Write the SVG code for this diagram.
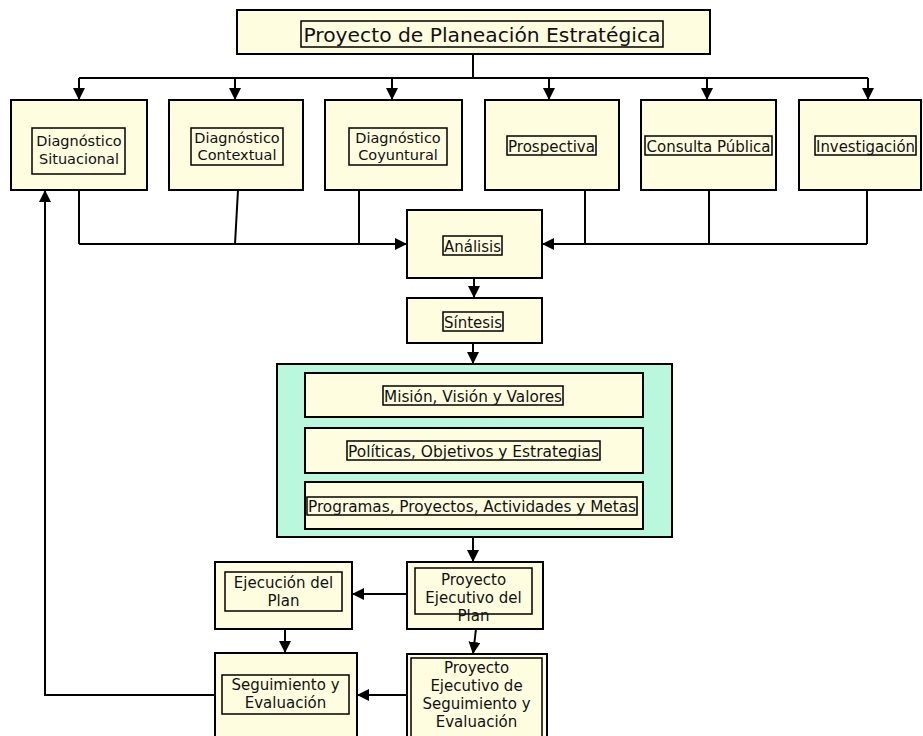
<svg xmlns="http://www.w3.org/2000/svg" width="923" height="736" viewBox="0 0 923 736">
  <style>
    .box { fill: #FFFDE0; stroke: #000; stroke-width: 2; }
    .frame { fill: #FFFDE0; stroke: #000; stroke-width: 1.5; }
    .group { fill: #B9F8DC; stroke: #000; stroke-width: 2; }
    .lbl { font-family: "DejaVu Sans", Verdana, sans-serif; font-size: 14.5px; fill: #111; text-anchor: middle; }
    .one { font-size: 16px; }
    .low { font-size: 15px; }
    .title { font-size: 20px; }
    .conn { fill: none; stroke: #000; stroke-width: 2; }
    .arr { marker-end: url(#arrow); }
  </style>
  <defs>
    <marker id="arrow" markerUnits="userSpaceOnUse" markerWidth="12" markerHeight="12" viewBox="0 0 12 12" refX="12" refY="6" orient="auto">
      <path d="M0,0 L12,6 L0,12 Z" fill="#000"/>
    </marker>
  </defs>

  <!-- connectors -->
  <g id="connectors">
    <path class="conn" d="M473 54 V78 M79 78 H868"/>
    <path class="conn arr" d="M79 78 V100"/>
    <path class="conn arr" d="M235 78 V100"/>
    <path class="conn arr" d="M392 78 V100"/>
    <path class="conn arr" d="M549 78 V100"/>
    <path class="conn arr" d="M707 78 V100"/>
    <path class="conn arr" d="M868 78 V100"/>

    <path class="conn" d="M79 190 V244 M238 190 L235 244 M359 190 V244"/>
    <path class="conn arr" d="M79 244 H407"/>
    <path class="conn" d="M585 190 V244 M709 190 V244 M867 190 V244"/>
    <path class="conn arr" d="M867 244 H542"/>

    <path class="conn arr" d="M474 278 V298"/>
    <path class="conn arr" d="M473 343 V364"/>
    <path class="conn arr" d="M473 537 V562"/>
    <path class="conn arr" d="M407 594 H352"/>
    <path class="conn arr" d="M285 629 V653"/>
    <path class="conn arr" d="M476 629 L473 654"/>
    <path class="conn arr" d="M407 695 H357"/>
    <path class="conn arr" d="M215 695 H45 V190"/>
  </g>

  <!-- top -->
  <g id="proyecto-planeacion">
    <rect class="box" x="237" y="10" width="473" height="44"/>
    <rect class="frame" x="301" y="21" width="362" height="26"/>
    <text class="lbl title" x="482" y="42" textLength="357" lengthAdjust="spacingAndGlyphs">Proyecto de Planeación Estratégica</text>
  </g>

  <!-- first row -->
  <g id="diag-situacional">
    <rect class="box" x="11" y="100" width="136" height="90"/>
    <rect class="frame" x="32" y="128" width="93" height="46"/>
    <text class="lbl" x="79" y="146">Diagnóstico</text>
    <text class="lbl" x="79" y="164">Situacional</text>
  </g>
  <g id="diag-contextual">
    <rect class="box" x="169" y="100" width="134" height="90"/>
    <rect class="frame" x="191" y="128" width="92" height="37"/>
    <text class="lbl" x="237" y="143">Diagnóstico</text>
    <text class="lbl" x="237" y="160">Contextual</text>
  </g>
  <g id="diag-coyuntural">
    <rect class="box" x="325" y="100" width="137" height="90"/>
    <rect class="frame" x="349" y="128" width="98" height="37"/>
    <text class="lbl" x="398" y="143">Diagnóstico</text>
    <text class="lbl" x="398" y="160">Coyuntural</text>
  </g>
  <g id="prospectiva">
    <rect class="box" x="485" y="100" width="134" height="90"/>
    <rect class="frame" x="507" y="136" width="89" height="19"/>
    <text class="lbl one" x="551.5" y="152" textLength="87" lengthAdjust="spacingAndGlyphs">Prospectiva</text>
  </g>
  <g id="consulta-publica">
    <rect class="box" x="641" y="100" width="135" height="90"/>
    <rect class="frame" x="645" y="136" width="127" height="19"/>
    <text class="lbl one" x="708.5" y="152" textLength="124" lengthAdjust="spacingAndGlyphs">Consulta Pública</text>
  </g>
  <g id="investigacion">
    <rect class="box" x="799" y="100" width="122" height="90"/>
    <rect class="frame" x="815" y="136" width="101" height="19"/>
    <text class="lbl one" x="865.5" y="152" textLength="99" lengthAdjust="spacingAndGlyphs">Investigación</text>
  </g>

  <!-- analysis -->
  <g id="analisis">
    <rect class="box" x="407" y="210" width="135" height="68"/>
    <rect class="frame" x="443" y="236" width="59" height="19"/>
    <text class="lbl one" x="472.5" y="252" textLength="57" lengthAdjust="spacingAndGlyphs">Análisis</text>
  </g>
  <g id="sintesis">
    <rect class="box" x="407" y="298" width="135" height="45"/>
    <rect class="frame" x="443" y="312" width="60" height="19"/>
    <text class="lbl one" x="473" y="328" textLength="58" lengthAdjust="spacingAndGlyphs">Síntesis</text>
  </g>

  <!-- strategic core -->
  <g id="nucleo-estrategico">
    <rect class="group" x="277" y="364" width="395" height="173"/>
  </g>
  <g id="mision-vision">
    <rect class="box" x="305" y="373" width="338" height="44"/>
    <rect class="frame" x="383" y="386" width="180" height="19"/>
    <text class="lbl one" x="473" y="402" textLength="178" lengthAdjust="spacingAndGlyphs">Misión, Visión y Valores</text>
  </g>
  <g id="politicas">
    <rect class="box" x="305" y="428" width="338" height="45"/>
    <rect class="frame" x="347" y="441" width="253" height="19"/>
    <text class="lbl one" x="473.5" y="457" textLength="251" lengthAdjust="spacingAndGlyphs">Políticas, Objetivos y Estrategias</text>
  </g>
  <g id="programas">
    <rect class="box" x="305" y="482" width="338" height="47"/>
    <rect class="frame" x="307" y="497" width="330" height="18"/>
    <text class="lbl one" x="472" y="512" textLength="328" lengthAdjust="spacingAndGlyphs">Programas, Proyectos, Actividades y Metas</text>
  </g>

  <!-- execution -->
  <g id="proyecto-ejecutivo">
    <rect class="box" x="407" y="562" width="136" height="67"/>
    <rect class="frame" x="415" y="568" width="117" height="46"/>
    <text class="lbl low" x="473.5" y="585">Proyecto</text>
    <text class="lbl low" x="473.5" y="603">Ejecutivo del</text>
    <text class="lbl low" x="473.5" y="621">Plan</text>
  </g>
  <g id="ejecucion">
    <rect class="box" x="215" y="562" width="137" height="67"/>
    <rect class="frame" x="225" y="572" width="117" height="39"/>
    <text class="lbl low" x="283.5" y="588">Ejecución del</text>
    <text class="lbl low" x="283.5" y="606">Plan</text>
  </g>
  <g id="seguimiento">
    <rect class="box" x="215" y="653" width="142" height="90"/>
    <rect class="frame" x="222" y="675" width="127" height="39"/>
    <text class="lbl low" x="285.5" y="690">Seguimiento y</text>
    <text class="lbl low" x="285.5" y="708">Evaluación</text>
  </g>
  <g id="proyecto-seguimiento">
    <rect class="box" x="407" y="654" width="140" height="90"/>
    <rect class="frame" x="411" y="658" width="131" height="86"/>
    <text class="lbl low" x="476.5" y="673">Proyecto</text>
    <text class="lbl low" x="476.5" y="691">Ejecutivo de</text>
    <text class="lbl low" x="476.5" y="709">Seguimiento y</text>
    <text class="lbl low" x="476.5" y="727">Evaluación</text>
  </g>
</svg>
